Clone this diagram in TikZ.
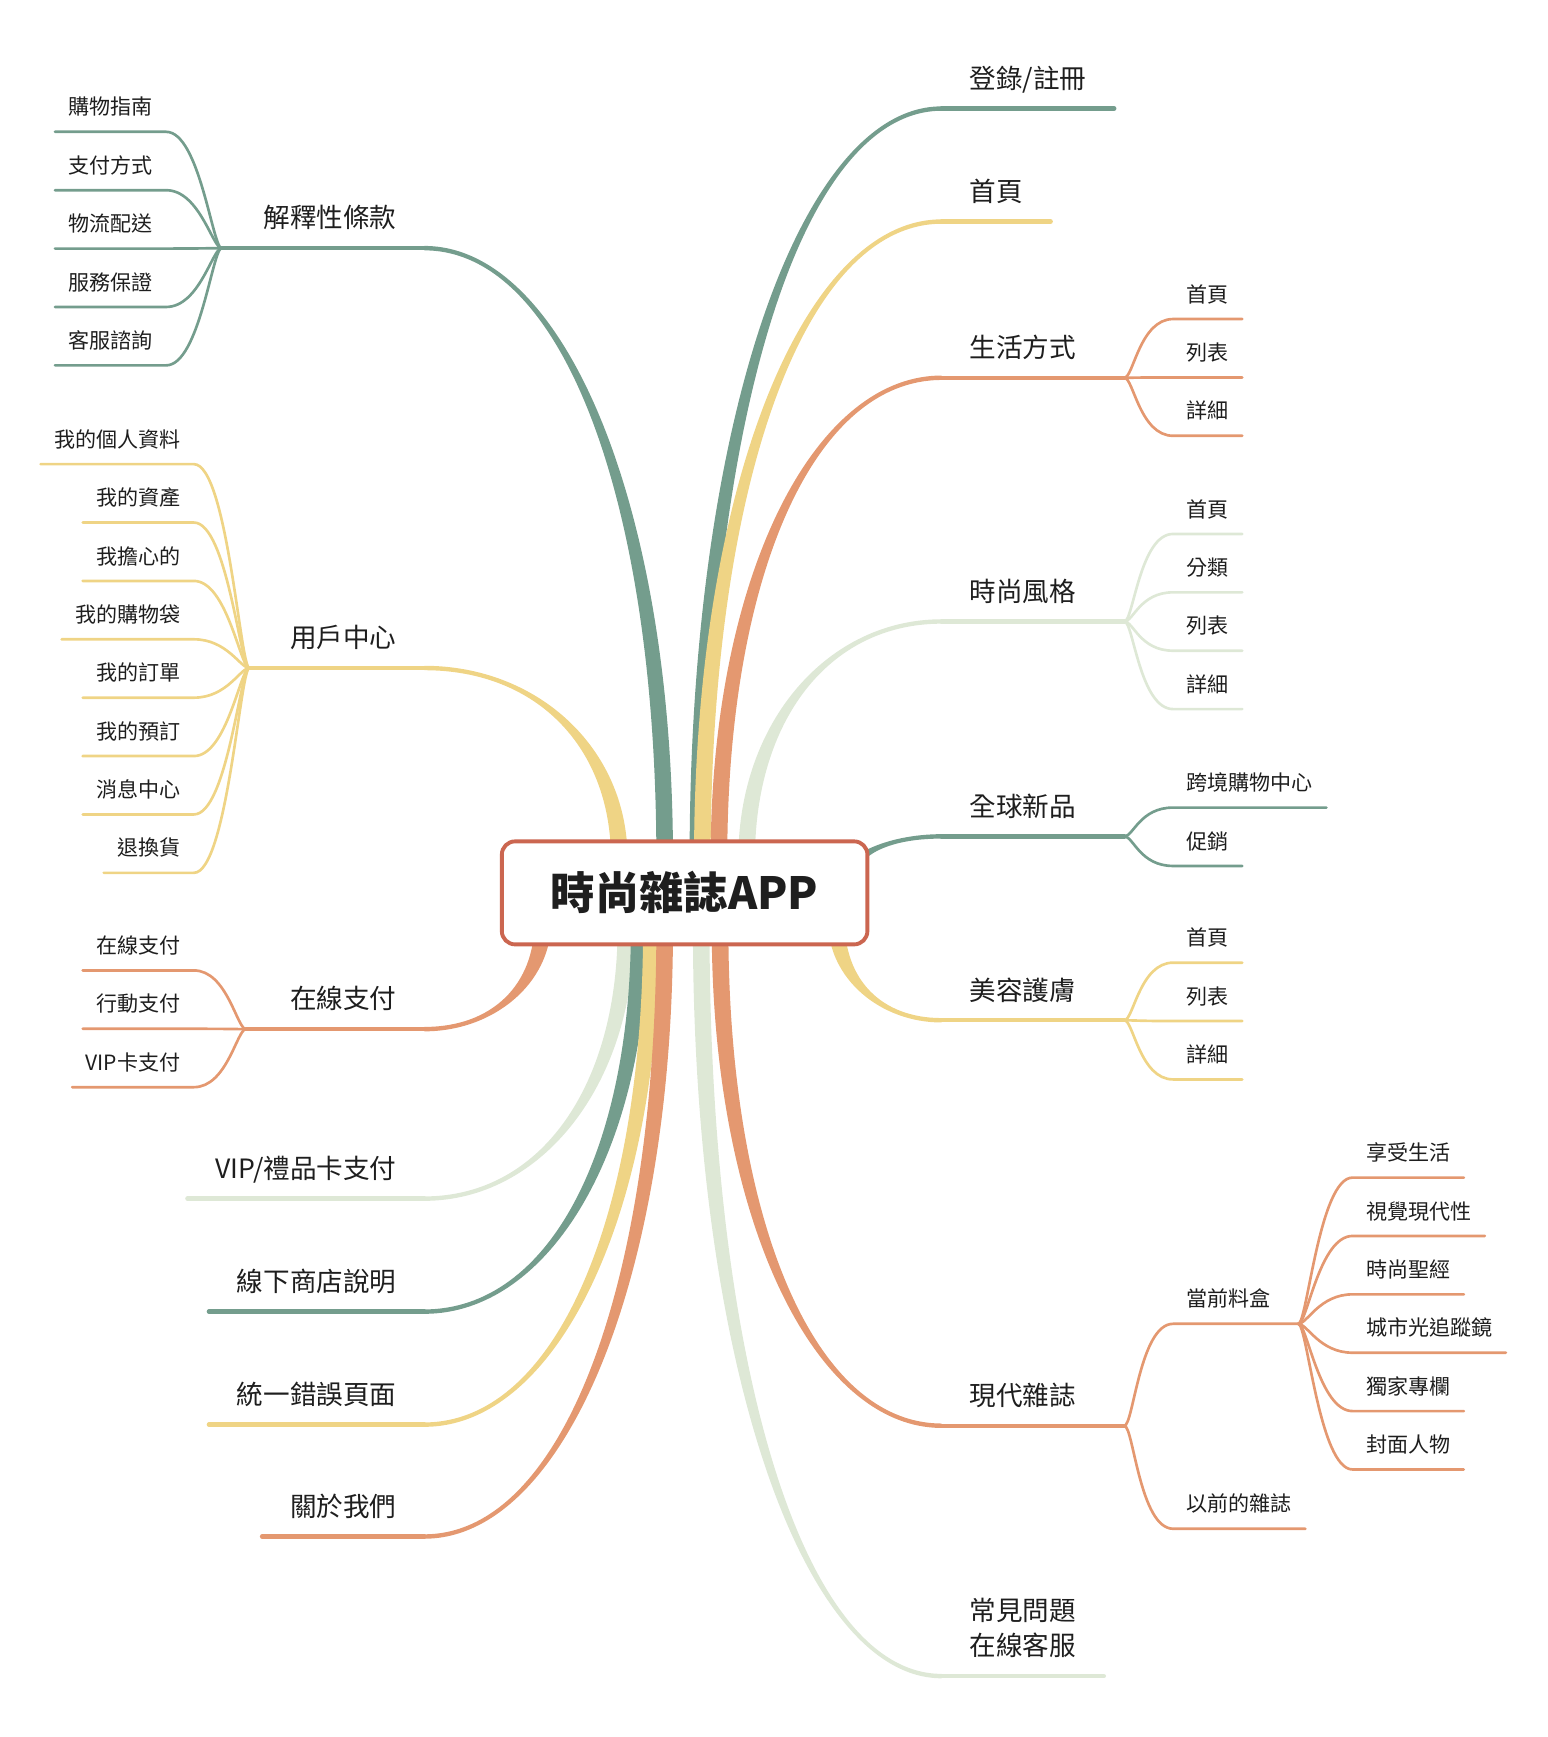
\documentclass[tikz,border=0pt]{standalone}
\usepackage{fontspec}
\setmainfont{Noto Sans CJK TC}
\usetikzlibrary{positioning,calc,backgrounds}

\definecolor{cgreen}{RGB}{116,157,141}
\definecolor{cyellow}{RGB}{239,212,133}
\definecolor{corange}{RGB}{228,152,112}
\definecolor{cpale}{RGB}{222,232,214}
\definecolor{cborder}{RGB}{203,102,80}
\definecolor{ctext}{RGB}{30,30,30}

% tapered main branch: colour, start, bend end, up(-1)/down(1), left(-1)/right(1)
\newcommand\trunk[5]{%
  \fill[#1] ($(#2)+({(#4)*7.5},0)$)
    .. controls ($(#2)!0.58!(#2|-#3)+({(#4)*7.5},0)$) and ($(#3)!0.58!(#2|-#3)+(0,{-(#5)*2})$)
    .. ($(#3)+(0,{-(#5)*2})$) -- ($(#3)+(0,{(#5)*2})$)
    .. controls ($(#3)!0.58!(#2|-#3)+(0,{(#5)*2})$) and ($(#2)!0.58!(#2|-#3)+({-(#4)*7.5},0)$)
    .. ($(#2)+({-(#4)*7.5},0)$) -- cycle;}

\begin{document}
\begin{tikzpicture}[x=1pt,y=-1pt,node distance=52.7pt,
  root/.style={draw=cborder,line width=3.5pt,fill=white,rounded corners=12pt,minimum width=330pt,minimum height=93pt,text=ctext,font=\fontsize{40}{48}\selectfont\bfseries},
  topic/.style={inner xsep=25pt,inner ysep=18pt,text depth=0pt,text=ctext,font=\fontsize{24}{32}\selectfont},
  topicl/.style={topic,anchor=south east},
  topicr/.style={topic,anchor=south west},
  item/.style={inner xsep=12pt,inner ysep=15pt,text depth=0pt,text=ctext,font=\fontsize{19}{24}\selectfont},
  iteml/.style={item,anchor=south east},
  itemr/.style={item,anchor=south west},
  downl/.style={below=of #1.south east,anchor=south east},
  downr/.style={below=of #1.south west,anchor=south west},
  bough/.style={line width=4pt,line cap=round},
  twig/.style={line width=2.4pt,line cap=round},
  kidl/.style={to path={.. controls +(-8,0) and +(30,0) .. (\tikztotarget)}},
  kidr/.style={to path={.. controls +(8,0) and +(-30,0) .. (\tikztotarget)}}]
\useasboundingbox (0,0) rectangle (1397,1568);

\node[root] (app) at (618,806) {時尚雜誌APP};

% left topics
\node[topicl] (terms) at (383,224) {解釋性條款};
\node[topicl] (user) at (383,603) {用戶中心};
\node[topicl] (pay) at (383,929) {在線支付};
\node[topicl] (vip) at (383,1082) {VIP/禮品卡支付};
\node[topicl] (store) at (383,1184) {線下商店說明};
\node[topicl] (error) at (383,1286) {統一錯誤頁面};
\node[topicl] (about) at (383,1387) {關於我們};

% right topics
\node[topicr] (login) at (850,98) {登錄/註冊};
\node[topicr] (home) at (850,200) {首頁};
\node[topicr] (life) at (850,341) {生活方式};
\node[topicr] (fashion) at (850,561) {時尚風格};
\node[topicr] (global) at (850,755) {全球新品};
\node[topicr] (beauty) at (850,921) {美容護膚};
\node[topicr] (modern) at (850,1287) {現代雜誌};
\node[topicr] (faq) at (850,1513) {\vbox{\hbox{常見問題}\hbox{在線客服}}};

% sub topics
\node[iteml] (terms1) at (150,119) {購物指南};
\node[iteml,downl=terms1] (terms2) {支付方式};
\node[iteml,downl=terms2] (terms3) {物流配送};
\node[iteml,downl=terms3] (terms4) {服務保證};
\node[iteml,downl=terms4] (terms5) {客服諮詢};

\node[iteml] (user1) at (175,419) {我的個人資料};
\node[iteml,downl=user1] (user2) {我的資產};
\node[iteml,downl=user2] (user3) {我擔心的};
\node[iteml,downl=user3] (user4) {我的購物袋};
\node[iteml,downl=user4] (user5) {我的訂單};
\node[iteml,downl=user5] (user6) {我的預訂};
\node[iteml,downl=user6] (user7) {消息中心};
\node[iteml,downl=user7] (user8) {退換貨};

\node[iteml] (pay1) at (175,876) {在線支付};
\node[iteml,downl=pay1] (pay2) {行動支付};
\node[iteml,downl=pay2] (pay3) {VIP卡支付};

\node[itemr] (life1) at (1059,288) {首頁};
\node[itemr,downr=life1] (life2) {列表};
\node[itemr,downr=life2] (life3) {詳細};

\node[itemr] (fashion1) at (1059,482) {首頁};
\node[itemr,downr=fashion1] (fashion2) {分類};
\node[itemr,downr=fashion2] (fashion3) {列表};
\node[itemr,downr=fashion3] (fashion4) {詳細};

\node[itemr] (global1) at (1059,729) {跨境購物中心};
\node[itemr,downr=global1] (global2) {促銷};

\node[itemr] (beauty1) at (1059,869) {首頁};
\node[itemr,downr=beauty1] (beauty2) {列表};
\node[itemr,downr=beauty2] (beauty3) {詳細};

\node[itemr] (modern1) at (1059,1195) {當前料盒};
\node[itemr] (modern2) at (1059,1380) {以前的雜誌};

\node[itemr] (box1) at (1221,1063) {享受生活};
\node[itemr,downr=box1] (box2) {視覺現代性};
\node[itemr,downr=box2] (box3) {時尚聖經};
\node[itemr,downr=box3] (box4) {城市光追蹤鏡};
\node[itemr,downr=box4] (box5) {獨家專欄};
\node[itemr,downr=box5] (box6) {封面人物};

% junctions
\coordinate (jterms) at (200,224);
\coordinate (juser) at (225,603);
\coordinate (jpay) at (222,929);
\coordinate (jlife) at (1015,341);
\coordinate (jfashion) at (1015,561);
\coordinate (jglobal) at (1015,755);
\coordinate (jbeauty) at (1015,921);
\coordinate (jmodern) at (1015,1287);
\coordinate (jbox) at (1172,1195);

% where the trunks leave the centre box
\coordinate (s-terms) at (600,775);
\coordinate (s-user) at (559,775);
\coordinate (s-pay) at (490,832);
\coordinate (s-vip) at (565,838);
\coordinate (s-store) at (577,838);
\coordinate (s-error) at (588,838);
\coordinate (s-about) at (600,838);
\coordinate (s-login) at (630,775);
\coordinate (s-home) at (634,775);
\coordinate (s-life) at (649,775);
\coordinate (s-fashion) at (674,775);
\coordinate (s-global) at (762,800);
\coordinate (s-beauty) at (755,832);
\coordinate (s-faq) at (633,838);
\coordinate (s-modern) at (650,838);

\begin{scope}[on background layer]
  \trunk{cyellow}{s-user}{user.south east}{-1}{-1}
  \trunk{cgreen}{s-terms}{terms.south east}{-1}{-1}
  \trunk{corange}{s-pay}{pay.south east}{1}{-1}
  \trunk{cpale}{s-vip}{vip.south east}{1}{-1}
  \trunk{cgreen}{s-store}{store.south east}{1}{-1}
  \trunk{cyellow}{s-error}{error.south east}{1}{-1}
  \trunk{corange}{s-about}{about.south east}{1}{-1}
  \trunk{cgreen}{s-login}{login.south west}{-1}{1}
  \trunk{cyellow}{s-home}{home.south west}{-1}{1}
  \trunk{corange}{s-life}{life.south west}{-1}{1}
  \trunk{cpale}{s-fashion}{fashion.south west}{-1}{1}
  \trunk{cgreen}{s-global}{global.south west}{-1}{1}
  \trunk{cyellow}{s-beauty}{beauty.south west}{1}{1}
  \trunk{cpale}{s-faq}{faq.south west}{1}{1}
  \trunk{corange}{s-modern}{modern.south west}{1}{1}
\end{scope}

% main lines
\draw[bough,cgreen] (terms.south east) -- (jterms);
\draw[bough,cyellow] (user.south east) -- (juser);
\draw[bough,corange] (pay.south east) -- (jpay);
\draw[bough,cpale] (vip.south east) -- (vip.south west);
\draw[bough,cgreen] (store.south east) -- (store.south west);
\draw[bough,cyellow] (error.south east) -- (error.south west);
\draw[bough,corange] (about.south east) -- (about.south west);
\draw[bough,cgreen] (login.south west) -- (login.south east);
\draw[bough,cyellow] (home.south west) -- (home.south east);
\draw[bough,corange] (life.south west) -- (jlife);
\draw[bough,cpale] (fashion.south west) -- (jfashion);
\draw[bough,cgreen] (global.south west) -- (jglobal);
\draw[bough,cyellow] (beauty.south west) -- (jbeauty);
\draw[bough,corange] (modern.south west) -- (jmodern);
\draw[bough,cpale] (faq.south west) -- (faq.south east);

% sub lines
\draw[twig,cgreen,kidl] (jterms) to (terms1.south east) -- (terms1.south west);
\draw[twig,cgreen,kidl] (jterms) to (terms2.south east) -- (terms2.south west);
\draw[twig,cgreen,kidl] (jterms) to (terms3.south east) -- (terms3.south west);
\draw[twig,cgreen,kidl] (jterms) to (terms4.south east) -- (terms4.south west);
\draw[twig,cgreen,kidl] (jterms) to (terms5.south east) -- (terms5.south west);

\draw[twig,cyellow,kidl] (juser) to (user1.south east) -- (user1.south west);
\draw[twig,cyellow,kidl] (juser) to (user2.south east) -- (user2.south west);
\draw[twig,cyellow,kidl] (juser) to (user3.south east) -- (user3.south west);
\draw[twig,cyellow,kidl] (juser) to (user4.south east) -- (user4.south west);
\draw[twig,cyellow,kidl] (juser) to (user5.south east) -- (user5.south west);
\draw[twig,cyellow,kidl] (juser) to (user6.south east) -- (user6.south west);
\draw[twig,cyellow,kidl] (juser) to (user7.south east) -- (user7.south west);
\draw[twig,cyellow,kidl] (juser) to (user8.south east) -- (user8.south west);

\draw[twig,corange,kidl] (jpay) to (pay1.south east) -- (pay1.south west);
\draw[twig,corange,kidl] (jpay) to (pay2.south east) -- (pay2.south west);
\draw[twig,corange,kidl] (jpay) to (pay3.south east) -- (pay3.south west);

\draw[twig,corange,kidr] (jlife) to (life1.south west) -- (life1.south east);
\draw[twig,corange,kidr] (jlife) to (life2.south west) -- (life2.south east);
\draw[twig,corange,kidr] (jlife) to (life3.south west) -- (life3.south east);

\draw[twig,cpale,kidr] (jfashion) to (fashion1.south west) -- (fashion1.south east);
\draw[twig,cpale,kidr] (jfashion) to (fashion2.south west) -- (fashion2.south east);
\draw[twig,cpale,kidr] (jfashion) to (fashion3.south west) -- (fashion3.south east);
\draw[twig,cpale,kidr] (jfashion) to (fashion4.south west) -- (fashion4.south east);

\draw[twig,cgreen,kidr] (jglobal) to (global1.south west) -- (global1.south east);
\draw[twig,cgreen,kidr] (jglobal) to (global2.south west) -- (global2.south east);

\draw[twig,cyellow,kidr] (jbeauty) to (beauty1.south west) -- (beauty1.south east);
\draw[twig,cyellow,kidr] (jbeauty) to (beauty2.south west) -- (beauty2.south east);
\draw[twig,cyellow,kidr] (jbeauty) to (beauty3.south west) -- (beauty3.south east);

\draw[twig,corange,kidr] (jmodern) to (modern1.south west) -- (jbox);
\draw[twig,corange,kidr] (jmodern) to (modern2.south west) -- (modern2.south east);

\draw[twig,corange,kidr] (jbox) to (box1.south west) -- (box1.south east);
\draw[twig,corange,kidr] (jbox) to (box2.south west) -- (box2.south east);
\draw[twig,corange,kidr] (jbox) to (box3.south west) -- (box3.south east);
\draw[twig,corange,kidr] (jbox) to (box4.south west) -- (box4.south east);
\draw[twig,corange,kidr] (jbox) to (box5.south west) -- (box5.south east);
\draw[twig,corange,kidr] (jbox) to (box6.south west) -- (box6.south east);
\end{tikzpicture}
\end{document}
